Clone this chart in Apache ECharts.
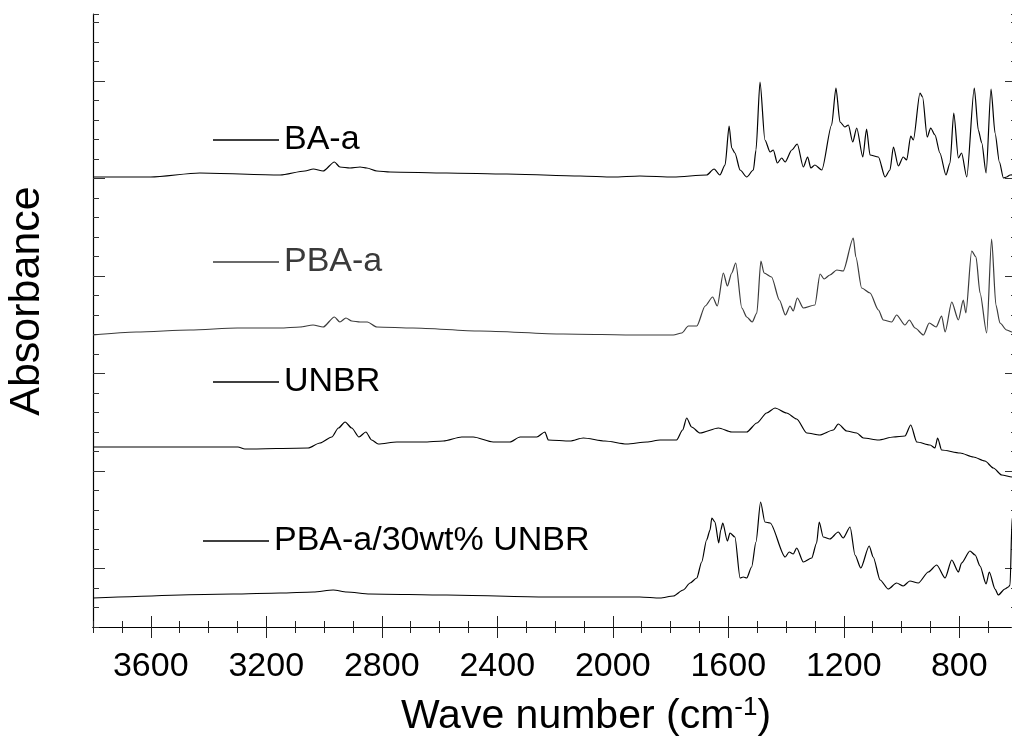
<!DOCTYPE html>
<html><head><meta charset="utf-8">
<script src="https://cdn.jsdelivr.net/npm/echarts@6/dist/echarts.min.js"></script>
<style>html,body{margin:0;padding:0;background:#fff}#c{width:1012px;height:742px}</style>
</head><body><div id="c"></div>
<script>
// Series names
const seriesNames = ['BA-a', 'PBA-a', 'UNBR', 'PBA-a/30wt% UNBR'];
// Wave-number tick labels (cm-1)
const waveTicks = [800, 1200, 1600, 2000, 2400, 2800, 3200, 3600];
// Major tick positions on the (arbitrary, offset) absorbance axis
const absMajorTicks = [58.5, 156, 253.5, 351, 448.5, 546];

// [wave number, offset absorbance (arb. units)]
const BA_a = [[3800,450],[3600,450],[3430,454],[3152,452],[3066,456],[3037,458],[3003,456],[2964,465],[2945,460],[2910,459],[2875,460],[2852,459],[2817,456],[2771,455],[2575,454],[2367,453],[2113,451],[1999,450],[1906,451],[1790,450],[1675,452],[1649,458],[1629,452],[1611,462],[1597,501],[1588,479],[1577,474],[1559,457],[1536,450],[1513,457],[1504,477],[1490,545],[1473,487],[1455,475],[1444,477],[1430,464],[1415,469],[1403,465],[1380,477],[1361,483],[1340,460],[1325,470],[1314,459],[1300,462],[1276,457],[1242,502],[1227,539],[1213,505],[1196,500],[1184,502],[1169,485],[1155,499],[1134,470],[1121,498],[1109,472],[1080,470],[1057,450],[1040,457],[1028,480],[1011,461],[994,470],[982,467],[968,491],[959,487],[936,534],[927,530],[911,490],[899,499],[884,492],[867,474],[846,452],[832,464],[819,514],[803,469],[792,474],[774,450],[748,539],[734,497],[722,484],[707,454],[690,538],[676,494],[661,465],[647,449],[636,450],[624,452],[600,453]];

const PBA_a = [[3800,292],[3650,295],[3464,297],[3300,299],[3152,299],[3083,300],[3038,302],[3003,300],[2964,310],[2945,305],[2924,309],[2904,306],[2875,305],[2850,305],[2817,300],[2692,299],[2460,296],[2172,293],[1906,292],[1790,292],[1761,294],[1738,301],[1709,301],[1680,321],[1654,330],[1638,321],[1617,354],[1603,341],[1588,354],[1574,364],[1553,319],[1536,310],[1517,305],[1501,314],[1487,366],[1476,354],[1450,350],[1423,327],[1402,312],[1386,321],[1375,316],[1361,329],[1340,319],[1300,322],[1282,353],[1268,348],[1248,352],[1224,357],[1202,356],[1167,389],[1158,370],[1138,339],[1109,334],[1080,317],[1063,307],[1034,305],[1017,312],[988,302],[973,307],[953,299],[924,292],[904,304],[880,300],[861,311],[849,295],[826,325],[803,307],[786,327],[777,314],[757,376],[742,370],[728,334],[705,294],[688,388],[673,322],[659,304],[636,297],[617,295],[600,295]];

const UNBR = [[3800,180],[3298,180],[3274,178],[3055,179],[3014,184],[2973,190],[2950,199],[2927,205],[2904,199],[2879,190],[2855,195],[2835,187],[2812,183],[2748,185],[2656,185],[2587,186],[2523,190],[2483,190],[2414,185],[2356,185],[2321,190],[2263,190],[2235,195],[2223,187],[2148,186],[2102,189],[2027,186],[1952,183],[1882,185],[1836,187],[1779,187],[1758,197],[1744,209],[1727,200],[1698,194],[1634,199],[1588,195],[1536,195],[1501,204],[1467,214],[1438,219],[1398,214],[1363,208],[1328,194],[1283,192],[1236,197],[1219,203],[1190,196],[1155,194],[1132,189],[1080,187],[1028,190],[988,191],[968,202],[947,185],[901,182],[884,179],[875,189],[861,177],[797,174],[751,170],[711,166],[682,159],[653,152],[617,150],[600,149]];

const PBA_a_30UNBR = [[3800,29],[3315,33],[3152,34],[3037,35],[2968,37],[2921,35],[2841,33],[2575,32],[2229,30],[1906,30],[1836,29],[1790,31],[1756,37],[1732,44],[1709,49],[1692,65],[1675,87],[1663,97],[1657,109],[1646,105],[1633,84],[1626,97],[1619,104],[1603,86],[1594,94],[1577,90],[1559,49],[1548,50],[1536,49],[1519,60],[1504,85],[1488,125],[1473,105],[1455,104],[1403,70],[1389,75],[1375,73],[1363,79],[1340,65],[1311,69],[1294,84],[1285,105],[1271,90],[1248,88],[1219,95],[1202,89],[1178,100],[1161,72],[1141,59],[1112,81],[1098,70],[1074,47],[1046,38],[1017,44],[994,41],[971,46],[942,44],[907,55],[878,62],[849,49],[826,67],[803,55],[792,64],[763,76],[745,72],[728,61],[707,43],[696,55],[676,38],[665,32],[642,38],[630,40],[624,42],[617,109],[600,140]];

const seriesData = [BA_a, PBA_a, UNBR, PBA_a_30UNBR];
const seriesColors = ['#000000', '#3a3a3a', '#000000', '#000000'];

const FONT = 'Liberation Sans, Arial, sans-serif';
const X_MIN = 600, X_MAX = 3800, Y_MIN = 0, Y_MAX = 613;

function xAx(pos, major, withLine) {
  const a = {
    type: 'value', min: X_MIN, max: X_MAX, inverse: true, position: pos,
    splitLine: { show: false },
    axisLine: { show: withLine, lineStyle: { color: '#000', width: 1.2 } },
    axisTick: { show: true, inside: true, length: major ? 11 : 6, lineStyle: { color: '#222', width: 1 } },
    axisLabel: { show: false }
  };
  if (major) { a.axisTick.customValues = waveTicks; } else { a.interval = 100; }
  return a;
}
function yAx(pos, major, withLine) {
  const a = {
    type: 'value', min: Y_MIN, max: Y_MAX, position: pos,
    splitLine: { show: false },
    axisLine: { show: withLine, lineStyle: { color: '#000', width: 1.2 } },
    axisTick: { show: true, inside: true, length: major ? 12 : 6, lineStyle: { color: '#333', width: 1 } },
    axisLabel: { show: false }
  };
  if (major) { a.axisTick.customValues = absMajorTicks; } else { a.interval = 19.5; }
  return a;
}

const xMain = xAx('bottom', true, true);
xMain.axisLabel = {
  show: true, customValues: waveTicks, formatter: v => String(v),
  fontSize: 34, color: '#000', fontFamily: FONT, margin: 23
};
xMain.name = 'Wave number (cm{sup|-1})';
xMain.nameLocation = 'middle';
xMain.nameGap = 68;
xMain.nameTextStyle = {
  fontSize: 41, color: '#000', fontFamily: FONT, padding: [0, 0, 0, 62],
  rich: { sup: { fontSize: 26, fontFamily: FONT, color: '#000', verticalAlign: 'top', padding: [0, 0, 18, 0] } }
};

const yMain = yAx('left', true, true);
yMain.name = 'Absorbance';
yMain.nameLocation = 'middle';
yMain.nameGap = 44;
yMain.nameTextStyle = { fontSize: 43, color: '#000', fontFamily: FONT, padding: [0, 0, 0, 39] };

const legendPos = [
  { left: 213, cy: 140, color: '#000' },
  { left: 213, cy: 262, color: '#3a3a3a' },
  { left: 213, cy: 382, color: '#000' },
  { left: 203, cy: 541, color: '#000' }
];

const option = {
  animation: false,
  backgroundColor: '#fff',
  grid: { left: 93, top: 14, width: 924, height: 613, containLabel: false, outerBoundsMode: 'none' },
  xAxis: [xMain, xAx('bottom', false, false), xAx('top', true, true), xAx('top', false, false)],
  yAxis: [yMain, yAx('left', false, false), yAx('right', true, true), yAx('right', false, false)],
  legend: seriesNames.map((n, i) => ({
    data: [n], left: legendPos[i].left, top: legendPos[i].cy - 17, padding: 0,
    icon: 'rect', itemWidth: 66, itemHeight: 1.3, selectedMode: false,
    textStyle: { fontSize: 34, color: legendPos[i].color, fontFamily: FONT }
  })),
  series: seriesNames.map((n, i) => ({
    name: n, type: 'line', xAxisIndex: 0, yAxisIndex: 0,
    data: seriesData[i], symbol: 'none', showSymbol: false,
    smooth: 0.25, smoothMonotone: 'x',
    lineStyle: { color: seriesColors[i], width: 1.2 },
    itemStyle: { color: seriesColors[i] },
    emphasis: { disabled: true }
  }))
};

const chart = echarts.init(document.getElementById('c'), null, { renderer: 'canvas' });
chart.setOption(option);
</script>
</body></html>
